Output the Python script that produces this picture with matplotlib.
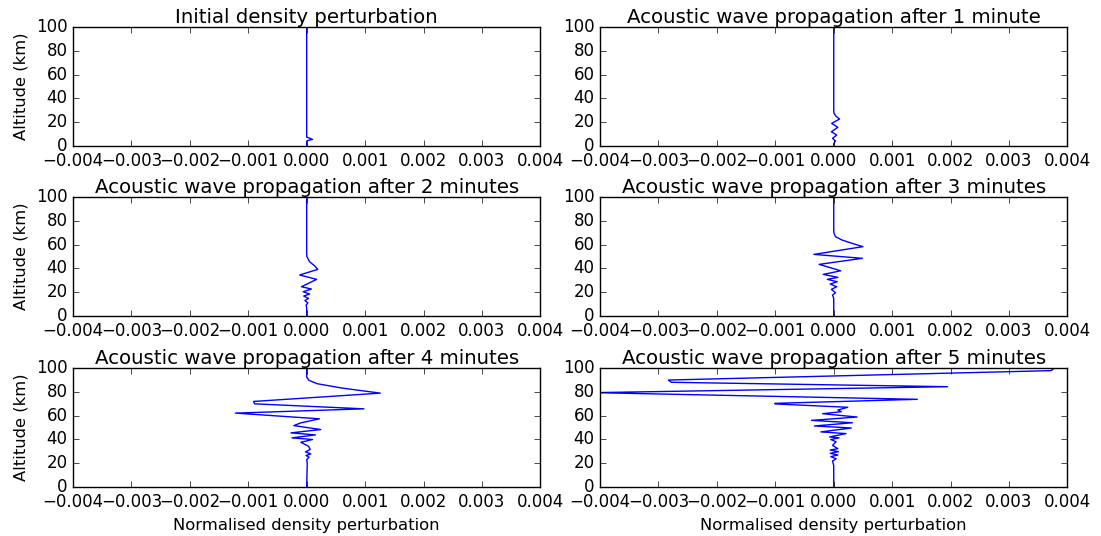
import numpy as np
import matplotlib
matplotlib.use("Agg")
import matplotlib.pyplot as plt

# altitude (km) and normalised density perturbation for each snapshot
alt0 = [100, 7.5, 5.6, 4.5, 3.5, 0]
rho0 = [0, 0, 0.0001, 0.00001, 0, 0]

alt1 = [100, 30, 27.4, 25, 22.7, 19.0, 15.7, 12.0, 9.2, 6.4, 4.2, 2, 0]
rho1 = [0, 0, 0.000005, 0.00004, 0.0001, -0.000035, 0.00007, -0.00004,
        0.00005, -0.00002, 0.00003, 0, 0]

alt2 = [100, 52, 49.8, 45.6, 42, 39.2, 34.5, 30.8, 24.6, 22.7, 20.4, 18.5,
        16.8, 14.8, 13, 11, 9, 7, 0]
rho2 = [0, 0, 0.000005, 0.00005, 0.00014, 0.00019, -0.00012, 0.00017,
        -0.00009, 0.00008, -0.00006, 0.00005, -0.00005, 0.00003, -0.00003,
        0.00002, -0.00001, 0, 0]

alt3 = [100, 72, 69.5, 66.7, 63.9, 61.1, 58.3, 51.8, 48.5, 43.4, 38, 35,
        32.5, 30.8, 28.8, 26.9, 24.6, 22.4, 19.6, 17.6, 14.8, 0]
rho3 = [0, 0, 0.000005, 0.00003, 0.00014, 0.00031, 0.0005, -0.00034,
        0.00049, -0.00025, 0.00012, -0.00018, 0.00007, -0.00011, 0.00006,
        -0.00006, 0.00005, -0.00004, 0.00003, -0.00002, 0, 0]

alt4 = [100, 92.4, 89.6, 86.8, 83.1, 78.9, 71.9, 69.9, 65.7, 62.1, 57.3,
        53.9, 51.6, 48.3, 45.5, 43.8, 41.3, 39.9, 37.6, 34.3, 31.6, 29.5,
        27.8, 26.5, 25, 23, 20, 0]
rho4 = [0, 0, 0.00004, 0.00018, 0.00061, 0.00126, -0.00091, -0.00089,
        0.00098, -0.00122, 0.00022, -0.0001, -0.00022, 0.00024, -0.00027,
        0.00015, -0.00025, 0.0001, -0.0001, 0.00003, 0.00006, -0.00002,
        0.00007, -0.00001, 0.00004, 0, 0.00001, 0]

alt5 = [100, 97.8, 89.9, 88, 84.3, 79.3, 73.7, 70.3, 69.8, 67, 64.7, 63.3,
        61.6, 58.8, 56, 54, 51.3, 49.6, 46.3, 44.9, 42.1, 41.3, 39.9, 38,
        35, 32.2, 31.1, 29.7, 28.3, 26.9, 25.5, 23.8, 21.8, 18, 0]
rho5 = [0.00378, 0.00372, -0.00283, -0.00278, 0.00195, -0.0041, 0.00143,
        -0.00101, -0.001, 0.00024, 0.00007, 0.00013, -0.00019, 0.0004,
        -0.00038, 0.00032, -0.00033, 0.0003, -0.00022, 0.00021, -0.00007,
        0.00009, -0.00005, 0.00004, -0.00002, 0.00007, -0.00006, 0.00008,
        -0.00006, 0.00007, -0.00005, 0.00004, -0.00002, 0, 0]

titles = ["Initial density perturbation",
          "Acoustic wave propagation after 1 minute",
          "Acoustic wave propagation after 2 minutes",
          "Acoustic wave propagation after 3 minutes",
          "Acoustic wave propagation after 4 minutes",
          "Acoustic wave propagation after 5 minutes"]

plt.style.use("classic")
plt.rcParams["font.family"] = "DejaVu Sans"

fig = plt.figure(figsize=(11.01, 5.36), dpi=100, facecolor="white")

lefts = [0.0663, 0.545]
bottoms = [0.7276, 0.4104, 0.0914]
w, h = 0.4245, 0.222

datos = [(rho0, alt0), (rho1, alt1), (rho2, alt2),
         (rho3, alt3), (rho4, alt4), (rho5, alt5)]

for i, (x, y) in enumerate(datos):
    fila, col = i // 2, i % 2
    ax = fig.add_axes([lefts[col], bottoms[fila], w, h])
    ax.plot(np.array(x), np.array(y), "b-", lw=1.0)
    ax.set_xlim(-0.004, 0.004)
    ax.set_ylim(0, 100)
    ax.set_xticks(np.linspace(-0.004, 0.004, 9))
    ax.set_yticks([0, 20, 40, 60, 80, 100])
    ax.tick_params(labelsize=12)
    ax.set_title(titles[i], fontsize=14.2, pad=3)
    if col == 0:
        ax.set_ylabel("Altitude (km)", fontsize=11.8)
    if fila == 2:
        ax.set_xlabel("Normalised density perturbation", fontsize=11.8)

fig.savefig("out.png", dpi=100, facecolor="white")
